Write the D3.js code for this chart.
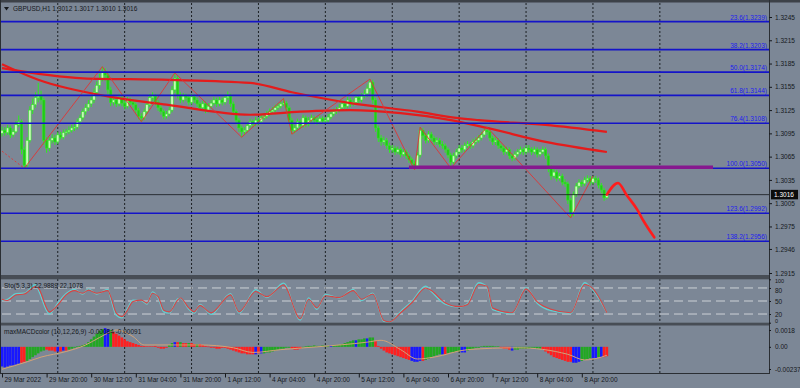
<!DOCTYPE html>
<html>
<head>
<meta charset="utf-8">
<script src="https://cdn.jsdelivr.net/npm/d3@7"></script>
<style>
  html, body { margin: 0; padding: 0; background: #7c8796; }
  svg { display: block; }
</style>
</head>
<body>
<div id="chart"></div>
<script>
// GBPUSD H1, 218 bars (bar 0 = 29 Mar 04:00)
const firstOpen = 1.3095;
const closes = [
  1.3099,1.3096,1.3102,1.3093,1.3097,1.3106,1.3110,1.3074,1.3054,1.3086,
  1.3125,1.3132,1.3141,1.3143,1.3138,1.3086,1.3076,1.3086,1.3089,1.3084,
  1.3093,1.3090,1.3096,1.3097,1.3099,1.3102,1.3103,1.3110,1.3115,1.3123,
  1.3128,1.3133,1.3138,1.3148,1.3157,1.3166,1.3174,1.3170,1.3151,1.3135,
  1.3138,1.3133,1.3141,1.3134,1.3130,1.3138,1.3135,1.3132,1.3125,1.3117,
  1.3115,1.3123,1.3132,1.3141,1.3143,1.3135,1.3128,1.3123,1.3117,1.3120,
  1.3125,1.3151,1.3166,1.3144,1.3138,1.3143,1.3141,1.3135,1.3142,1.3138,
  1.3133,1.3128,1.3133,1.3125,1.3130,1.3134,1.3138,1.3133,1.3138,1.3135,
  1.3141,1.3143,1.3133,1.3123,1.3112,1.3102,1.3097,1.3099,1.3105,1.3110,
  1.3107,1.3112,1.3110,1.3115,1.3117,1.3120,1.3123,1.3125,1.3128,1.3130,
  1.3133,1.3134,1.3128,1.3112,1.3099,1.3102,1.3110,1.3105,1.3115,1.3107,
  1.3112,1.3115,1.3112,1.3110,1.3114,1.3111,1.3112,1.3116,1.3120,1.3123,
  1.3125,1.3128,1.3133,1.3130,1.3138,1.3133,1.3135,1.3141,1.3138,1.3143,
  1.3146,1.3153,1.3161,1.3138,1.3102,1.3089,1.3084,1.3086,1.3079,1.3074,
  1.3076,1.3071,1.3074,1.3068,1.3071,1.3066,1.3061,1.3056,1.3053,1.3067,
  1.3099,1.3092,1.3086,1.3094,1.3089,1.3084,1.3086,1.3081,1.3079,1.3074,
  1.3067,1.3058,1.3066,1.3071,1.3076,1.3074,1.3079,1.3081,1.3079,1.3084,
  1.3086,1.3089,1.3093,1.3099,1.3097,1.3089,1.3084,1.3086,1.3079,1.3076,
  1.3071,1.3074,1.3066,1.3063,1.3068,1.3071,1.3074,1.3071,1.3076,1.3074,
  1.3071,1.3074,1.3068,1.3071,1.3074,1.3066,1.3050,1.3040,1.3045,1.3037,
  1.3040,1.3032,1.3030,1.3009,1.2991,1.3016,1.3027,1.3032,1.3030,1.3035,
  1.3037,1.3032,1.3037,1.3035,1.3028,1.3022,1.3012,1.3016
];
const highs = [
  1.3104,1.3103,1.3106,1.3105,1.3101,1.3111,1.3118,1.3113,1.3078,1.3090,
  1.3130,1.3140,1.3148,1.3160,1.3150,1.3141,1.3090,1.3090,1.3094,1.3093,
  1.3097,1.3097,1.3100,1.3101,1.3104,1.3106,1.3108,1.3114,1.3119,1.3127,
  1.3133,1.3138,1.3143,1.3153,1.3162,1.3172,1.3181,1.3179,1.3173,1.3155,
  1.3143,1.3142,1.3146,1.3145,1.3138,1.3142,1.3141,1.3139,1.3135,1.3128,
  1.3121,1.3127,1.3136,1.3146,1.3148,1.3146,1.3138,1.3131,1.3126,1.3124,
  1.3129,1.3156,1.3173,1.3169,1.3148,1.3147,1.3146,1.3144,1.3146,1.3145,
  1.3141,1.3136,1.3137,1.3136,1.3134,1.3138,1.3142,1.3141,1.3142,1.3141,
  1.3145,1.3149,1.3146,1.3136,1.3126,1.3115,1.3105,1.3103,1.3109,1.3114,
  1.3113,1.3116,1.3115,1.3119,1.3121,1.3124,1.3127,1.3129,1.3132,1.3134,
  1.3137,1.3140,1.3137,1.3131,1.3115,1.3106,1.3114,1.3113,1.3119,1.3118,
  1.3116,1.3119,1.3118,1.3116,1.3118,1.3117,1.3116,1.3120,1.3124,1.3127,
  1.3129,1.3133,1.3137,1.3136,1.3142,1.3141,1.3139,1.3145,1.3144,1.3147,
  1.3151,1.3158,1.3165,1.3164,1.3141,1.3105,1.3093,1.3091,1.3089,1.3083,
  1.3080,1.3079,1.3078,1.3077,1.3075,1.3074,1.3069,1.3064,1.3060,1.3071,
  1.3103,1.3102,1.3095,1.3098,1.3097,1.3092,1.3090,1.3089,1.3085,1.3082,
  1.3077,1.3070,1.3070,1.3075,1.3080,1.3080,1.3083,1.3085,1.3084,1.3088,
  1.3090,1.3093,1.3097,1.3103,1.3103,1.3100,1.3092,1.3090,1.3089,1.3082,
  1.3079,1.3078,1.3077,1.3069,1.3072,1.3075,1.3078,1.3077,1.3080,1.3080,
  1.3077,1.3078,1.3077,1.3075,1.3078,1.3077,1.3069,1.3054,1.3050,1.3048,
  1.3044,1.3043,1.3036,1.3033,1.3012,1.3020,1.3031,1.3036,1.3035,1.3039,
  1.3041,1.3040,1.3040,1.3040,1.3038,1.3031,1.3025,1.3017
];
const lows = [
  1.3091,1.3092,1.3093,1.3089,1.3090,1.3095,1.3103,1.3068,1.3050,1.3051,
  1.3083,1.3120,1.3128,1.3135,1.3132,1.3080,1.3070,1.3072,1.3082,1.3080,
  1.3081,1.3087,1.3087,1.3092,1.3094,1.3096,1.3098,1.3100,1.3106,1.3112,
  1.3119,1.3124,1.3129,1.3134,1.3144,1.3152,1.3162,1.3163,1.3146,1.3130,
  1.3131,1.3129,1.3130,1.3130,1.3126,1.3127,1.3131,1.3128,1.3121,1.3113,
  1.3110,1.3112,1.3120,1.3129,1.3137,1.3131,1.3124,1.3119,1.3113,1.3114,
  1.3117,1.3122,1.3147,1.3140,1.3134,1.3135,1.3137,1.3131,1.3132,1.3134,
  1.3129,1.3124,1.3125,1.3121,1.3122,1.3127,1.3131,1.3129,1.3130,1.3131,
  1.3132,1.3138,1.3129,1.3119,1.3108,1.3097,1.3090,1.3093,1.3096,1.3102,
  1.3103,1.3104,1.3106,1.3107,1.3112,1.3114,1.3117,1.3120,1.3122,1.3125,
  1.3127,1.3130,1.3124,1.3108,1.3094,1.3095,1.3099,1.3101,1.3102,1.3103,
  1.3104,1.3109,1.3108,1.3106,1.3107,1.3108,1.3108,1.3109,1.3113,1.3117,
  1.3120,1.3122,1.3125,1.3126,1.3127,1.3129,1.3130,1.3132,1.3134,1.3135,
  1.3140,1.3142,1.3149,1.3133,1.3097,1.3084,1.3079,1.3080,1.3075,1.3070,
  1.3070,1.3067,1.3068,1.3064,1.3065,1.3062,1.3057,1.3051,1.3048,1.3050,
  1.3064,1.3088,1.3082,1.3083,1.3085,1.3080,1.3080,1.3077,1.3075,1.3070,
  1.3063,1.3050,1.3055,1.3063,1.3068,1.3070,1.3071,1.3076,1.3075,1.3076,
  1.3081,1.3083,1.3086,1.3090,1.3093,1.3085,1.3080,1.3080,1.3075,1.3072,
  1.3067,1.3068,1.3062,1.3059,1.3060,1.3065,1.3068,1.3067,1.3068,1.3070,
  1.3067,1.3068,1.3064,1.3065,1.3068,1.3062,1.3045,1.3035,1.3037,1.3033,
  1.3034,1.3028,1.3026,1.3004,1.2986,1.2988,1.3013,1.3024,1.3026,1.3027,
  1.3032,1.3028,1.3029,1.3031,1.3024,1.3018,1.3008,1.3010
];

// moving averages, sampled at bars
const maSlowBars = [0, 29, 60, 89, 104, 125, 149, 163, 171, 195, 217];
const maSlow = [1.3179, 1.3166, 1.3164, 1.3160, 1.3148, 1.3134, 1.3123, 1.3115, 1.3112, 1.3106, 1.3097];
const maFastBars = [0, 13, 39, 59, 89, 107, 125, 143, 161, 174, 195, 217];
const maFast = [1.3184, 1.3164, 1.3142, 1.3132, 1.3119, 1.3123, 1.3125, 1.3121, 1.3112, 1.3102, 1.3084, 1.3071];

// zigzag pivots
const zzBars = [0, 8, 36, 50, 62, 86, 101, 104, 132, 148, 150, 161, 174, 204, 212];
const zzPrices = [1.3072, 1.3050, 1.3181, 1.3110, 1.3173, 1.3090, 1.3140, 1.3094, 1.3165, 1.3048, 1.3103, 1.3050, 1.3103, 1.2986, 1.3040];

// projected path
const projBars = [217, 221, 224, 228, 230, 234];
const projPrices = [1.3016, 1.3031, 1.3016, 1.2996, 1.2983, 1.2961];

// fibo levels
const fibLevels = ["23.6", "38.2", "50.0", "61.8", "76.4", "100.0", "123.6", "138.2"];
const fibPrices = [1.3239, 1.3203, 1.3174, 1.3144, 1.3108, 1.3050, 1.2992, 1.2956];

// stochastic (5,3,3)
const stoBars = [0,2,5,8,12,13,17,20,23,26,29,31,34,38,39,41,43,45,47,50,52,54,56,58,60,63,64,67,69,71,
  75,82,85,91,95,101,107,110,113,116,121,126,129,133,137,139,143,147,152,154,159,164,167,171,174,176,
  183,188,192,197,204,209,212,217];
const stoSignal = [54,51,64,66,83,80,25,41,64,74,68,75,68,74,60,22,14,29,49,52,45,68,60,29,25,52,57,34,25,40,
  23,64,25,72,60,87,9,54,34,62,58,74,54,66,5,2,23,46,80,74,46,37,42,88,84,34,23,78,48,31,23,88,78,23];
const stoMain = [52,54,67,68,88,76,20,45,67,77,66,78,66,77,56,17,11,33,52,51,43,71,57,25,22,55,56,31,22,42,
  19,67,22,76,58,91,6,57,31,65,57,77,51,68,3,1,26,49,84,72,43,36,44,92,82,30,21,81,45,28,22,92,75,23];

// maxMACDcolor histogram, one per bar, in units of 0.0001
const macdHist = [
  -21,-22,-21,-20,-20,-19,-18,-17,-16,-15,
  -13,-11,-9,-7,-5,-4,-3,-4,-4,-5,
  -5,-5,-4,-4,-3,-2,-1,0.5,1,2,
  3,5,8,11,14,17,19,20,19,18,
  16,14,12,10,8,6,5,4,3,2,
  1,1,0.5,0.5,0.5,1,-1,-2,-2,-1,
  2,4,5,5,5,4,4,4,4,3,
  3,3,2,1,0.3,-1,-1,-2,-2,-1,
  -1,-2,-3,-4,-5,-6,-7,-7,-8,-8,
  -8,-8,-7,-7,-7,-6,-6,-5,-4,-3,
  -2,-2,-1,-1,-2,-3,-3,-2,-1,0.5,
  1,1,1.5,1,1,1.5,1,1,1.5,2,
  2,2,3,4,5,6,7,7,8,8,
  9,9,10,10,6,1,-2,-4,-6,-7,
  -8,-9,-10,-11,-12,-13,-14,-15,-16,-16,
  -15,-15,-14,-13,-11,-10,-9,-8,-8,-8,
  -7,-6,-6,-5,-5,-6,-6,-4,-3,-2,
  -1,-1,0.5,1,1,1,1,0.5,0.5,-1,
  -2,-2,-3,-4,-3,-3,-2,-2,-2,-2,
  -1,-1,-2,-2,-3,-5,-7,-9,-11,-12,
  -13,-14,-15,-16,-16,-17,-17,-16,-15,-14,
  -13,-12,-12,-12,-11,-11,-11,-10
];
const macdColors =
  "bbbbbbbrrg" + "ggggggrrrr" + "brbrgggggg" + "gggggggbbg" + "rrrrrrrrrr" +
  "rrrrrrrrrr" + "ggbrgrrgrr" + "grrrrrrrrr" + "rrrrrrrrrr" + "rbrbgggggg" +
  "ggggrrrrgg" + "ggggggggbg" + "gggggggbgg" + "gbggrrrrrr" + "rrrrrrrbbb" +
  "brggggggbr" + "gggggbbggg" + "gggggggggr" + "rrrbgggggg" + "ggggrrrrrr" +
  "rrrrrbbbgg" + "ggbbgbrr";
const macdSigBars = [0,9,14,23,30,35,39,41,47,51,71,83,90,100,113,131,136,143,149,155,167,185,203,209,215,217];
const macdSig = [-24,-16,-11,-5,2,10,16,18,11,2,2,-1,-6,-3,0,5,7,-3,-13,-11,-3,-1,-8,-14,-11,-9];

// axes
const priceTicks = [1.3245,1.3215,1.3185,1.3155,1.3125,1.3095,1.3065,1.3035,1.3005,1.2975,1.2946,1.2915];
const timeBars = [0,16,32,48,64,80,96,112,128,144,160,176,192,208];
const timeLabels = ["29 Mar 2022","29 Mar 20:00","30 Mar 12:00","31 Mar 04:00","31 Mar 20:00","1 Apr 12:00",
  "4 Apr 04:00","4 Apr 20:00","5 Apr 12:00","6 Apr 04:00","6 Apr 20:00","7 Apr 12:00","8 Apr 04:00","8 Apr 20:00"];
const gridBars = [20,44,68,92,116,140,164,188,212,236];

const FONT = "'Liberation Sans', Arial, sans-serif";
const RIGHT = 769;

const svg = d3.select("#chart").append("svg")
    .attr("width", 800)
    .attr("height", 388)
    .style("font-family", FONT);

svg.append("rect").attr("width", 800).attr("height", 388).attr("fill", "#7c8796");

// scales
const x = d3.scaleLinear().domain([0, 236]).range([2, 659.85]);
const y = d3.scaleLinear().domain([1.2915, 1.3245]).range([273, 17]);
const ySto = d3.scaleLinear().domain([0, 100]).range([322.7, 279.3]);
const yMacd = d3.scaleLinear().domain([-23.7, 18]).range([369, 330]);

const defs = svg.append("defs");
function addClip(id, y0, y1) {
    defs.append("clipPath").attr("id", id).append("rect")
        .attr("x", 1).attr("y", y0).attr("width", RIGHT - 1).attr("height", y1 - y0);
}
addClip("cMain", 3, 275);
addClip("cSto", 279, 322.7);
addClip("cMacd", 325.5, 373);

// dotted vertical grid
svg.append("g").selectAll("line").data(gridBars).join("line")
    .attr("x1", d => x(d)).attr("x2", d => x(d))
    .attr("y1", 3).attr("y2", 373)
    .attr("stroke", "#1c2024").attr("stroke-width", 1)
    .attr("stroke-dasharray", "2,2");

// ---- main panel
const gMain = svg.append("g").attr("clip-path", "url(#cMain)");

const bars = closes.map((c, i) => ({
    i, c,
    o: i === 0 ? firstOpen : closes[i - 1],  // open = previous close
    h: highs[i], l: lows[i]
}));

gMain.append("g").selectAll("line").data(bars).join("line")
    .attr("x1", d => x(d.i)).attr("x2", d => x(d.i))
    .attr("y1", d => y(d.h)).attr("y2", d => y(d.l))
    .attr("stroke", "#2cf01c").attr("stroke-width", 1);

gMain.append("g").selectAll("rect").data(bars).join("rect")
    .attr("x", d => x(d.i) - 1.2)
    .attr("width", 2.4)
    .attr("y", d => y(Math.max(d.o, d.c)))
    .attr("height", d => Math.max(1, Math.abs(y(d.o) - y(d.c))))
    .attr("fill", d => d.c >= d.o ? "#c8f8b8" : "#22c818")
    .attr("stroke", "#2cf01c").attr("stroke-width", 0.5);

const mLine = d3.line().x(d => x(d[0])).y(d => y(d[1]));

gMain.append("path").datum(d3.zip(maSlowBars, maSlow))
    .attr("d", mLine.curve(d3.curveMonotoneX))
    .attr("fill", "none").attr("stroke", "#e41c1c").attr("stroke-width", 2.2);
gMain.append("path").datum(d3.zip(maFastBars, maFast))
    .attr("d", mLine.curve(d3.curveMonotoneX))
    .attr("fill", "none").attr("stroke", "#e41c1c").attr("stroke-width", 2.2);

// zigzag: first leg dotted, the rest solid
const zz = d3.zip(zzBars, zzPrices);
gMain.append("path").datum(zz.slice(0, 2))
    .attr("d", mLine.curve(d3.curveLinear))
    .attr("fill", "none").attr("stroke", "#e03434").attr("stroke-width", 0.9)
    .attr("stroke-dasharray", "2,2");
gMain.append("path").datum(zz.slice(1))
    .attr("d", mLine.curve(d3.curveLinear))
    .attr("fill", "none").attr("stroke", "#e03434").attr("stroke-width", 0.9);

// fibo lines + labels
gMain.append("g").selectAll("line").data(fibPrices).join("line")
    .attr("x1", 1).attr("x2", RIGHT)
    .attr("y1", d => y(d)).attr("y2", d => y(d))
    .attr("stroke", "#1414c8").attr("stroke-width", 1.6);

svg.append("g").selectAll("text").data(fibPrices).join("text")
    .attr("x", 767).attr("y", d => y(d) - 2)
    .attr("text-anchor", "end")
    .attr("font-size", 6.5).attr("fill", "#1c1cf0")
    .text((d, i) => fibLevels[i] + "(" + d.toFixed(4) + ")");

// purple level at the 100% line
gMain.append("line")
    .attr("x1", x(146)).attr("x2", 713)
    .attr("y1", y(1.3050) - 1).attr("y2", y(1.3050) - 1)
    .attr("stroke", "#86188e").attr("stroke-width", 3.5);

// bid line
gMain.append("line")
    .attr("x1", 1).attr("x2", RIGHT)
    .attr("y1", y(closes[closes.length - 1])).attr("y2", y(closes[closes.length - 1]))
    .attr("stroke", "#15181c").attr("stroke-width", 0.8);

// projection
gMain.append("path").datum(d3.zip(projBars, projPrices))
    .attr("d", mLine.curve(d3.curveMonotoneX))
    .attr("fill", "none").attr("stroke", "#ff1c1c").attr("stroke-width", 2.6)
    .attr("stroke-linecap", "round");

// title
svg.append("path").attr("d", "M4,7 L9,7 L6.5,10.5 Z").attr("fill", "#15181c");
svg.append("text").attr("x", 13).attr("y", 10.5)
    .attr("font-size", 6.5).attr("fill", "#15181c")
    .text("GBPUSD,H1  1.3012 1.3017 1.3010 1.3016");

// ---- stochastic panel
const gSto = svg.append("g").attr("clip-path", "url(#cSto)");
gSto.append("g").selectAll("line").data([80, 50, 20]).join("line")
    .attr("x1", 2).attr("x2", RIGHT)
    .attr("y1", d => ySto(d)).attr("y2", d => ySto(d))
    .attr("stroke", "#d6dade").attr("stroke-width", 0.9)
    .attr("stroke-dasharray", "9,5");

const sLine = d3.line().x(d => x(d[0])).y(d => ySto(d[1])).curve(d3.curveMonotoneX);
gSto.append("path").datum(d3.zip(stoBars, stoMain))
    .attr("d", sLine).attr("fill", "none")
    .attr("stroke", "#62cfd0").attr("stroke-width", 1.3);
gSto.append("path").datum(d3.zip(stoBars, stoSignal))
    .attr("d", sLine).attr("fill", "none")
    .attr("stroke", "#d84444").attr("stroke-width", 1.1);

svg.append("text").attr("x", 4).attr("y", 287.5)
    .attr("font-size", 6.5).attr("fill", "#15181c")
    .text("Sto(5,3,3) 22.9889 22.1078");

// ---- MACD panel
const gMacd = svg.append("g").attr("clip-path", "url(#cMacd)");
const histCol = { r: "#ff2020", g: "#22a822", b: "#1818ff" };
gMacd.append("g").selectAll("rect").data(macdHist).join("rect")
    .attr("x", (d, i) => x(i) - 1.3)
    .attr("width", 2.6)
    .attr("y", d => Math.min(yMacd(0), yMacd(d)))
    .attr("height", d => Math.max(0.6, Math.abs(yMacd(d) - yMacd(0))))
    .attr("fill", (d, i) => histCol[macdColors[i]]);

gMacd.append("path").datum(d3.zip(macdSigBars, macdSig))
    .attr("d", d3.line().x(d => x(d[0])).y(d => yMacd(d[1])).curve(d3.curveMonotoneX))
    .attr("fill", "none").attr("stroke", "#d4a276").attr("stroke-width", 1);

svg.append("text").attr("x", 4).attr("y", 333.5)
    .attr("font-size", 6.5).attr("fill", "#15181c")
    .text("maxMACDcolor (10,12,26,9) -0.00084 -0.00091");

// ---- frame and separators
svg.append("rect").attr("x", 0).attr("y", 0).attr("width", 800).attr("height", 2.5).attr("fill", "#3c4148");
svg.append("rect").attr("x", 0).attr("y", 275).attr("width", RIGHT).attr("height", 4.3).attr("fill", "#474d55");
svg.append("rect").attr("x", 0).attr("y", 322.7).attr("width", RIGHT).attr("height", 2.8).attr("fill", "#474d55");
svg.append("line").attr("x1", RIGHT + 0.5).attr("x2", RIGHT + 0.5).attr("y1", 0).attr("y2", 373.5)
    .attr("stroke", "#2a2e33").attr("stroke-width", 1);
svg.append("line").attr("x1", 0.5).attr("x2", 0.5).attr("y1", 0).attr("y2", 373.5)
    .attr("stroke", "#2a2e33").attr("stroke-width", 1);
svg.append("line").attr("x1", 0).attr("x2", RIGHT + 1).attr("y1", 373.5).attr("y2", 373.5)
    .attr("stroke", "#2a2e33").attr("stroke-width", 1);

function styleAxis(g) {
    g.select(".domain").remove();
    g.selectAll("text").attr("font-size", 6.5).attr("fill", "#15181c").attr("font-family", FONT);
    g.selectAll(".tick line").attr("stroke", "#15181c");
}

// price axis
svg.append("g").attr("transform", `translate(${RIGHT},0)`)
    .call(d3.axisRight(y).tickValues(priceTicks).tickFormat(d3.format(".4f")).tickSize(3).tickPadding(3))
    .call(styleAxis);

// current price tag
const last = closes[closes.length - 1];
svg.append("rect").attr("x", 771).attr("y", y(last) - 4.8).attr("width", 27).attr("height", 9.5).attr("fill", "#0c0c0c");
svg.append("text").attr("x", 774).attr("y", y(last) + 2.3)
    .attr("font-size", 6.5).attr("fill", "#ffffff").text(d3.format(".4f")(last));

// stochastic axis (100 and 0 sit inside the panel edges)
const stoAx = svg.append("g").attr("transform", `translate(${RIGHT},0)`)
    .call(d3.axisRight(ySto).tickValues([100, 80, 50, 20, 0]).tickSize(2).tickPadding(4))
    .call(styleAxis);
stoAx.selectAll(".tick text")
    .attr("font-size", d => (d === 100 || d === 0) ? 5.5 : 6.5)
    .attr("dy", d => d === 100 ? "0.55em" : d === 80 ? "0.75em" : d === 0 ? "-0.05em" : "0.32em");

// MACD axis
const macdTicks = [18, 0, -23.7];
const macdTickText = ["0.0018", "0.00", "-0.00237"];
svg.append("g").attr("transform", `translate(${RIGHT},0)`)
    .call(d3.axisRight(yMacd).tickValues(macdTicks).tickFormat((d, i) => macdTickText[i]).tickSize(2).tickPadding(4))
    .call(styleAxis);

// time axis
const tAx = svg.append("g").attr("transform", "translate(0,373.5)")
    .call(d3.axisBottom(x).tickValues(timeBars).tickFormat((d, i) => timeLabels[i]).tickSize(4))
    .call(styleAxis);
tAx.selectAll(".tick text").attr("text-anchor", "start").attr("dx", 2).attr("y", 4).attr("dy", "0.71em");
</script>
</body>
</html>
